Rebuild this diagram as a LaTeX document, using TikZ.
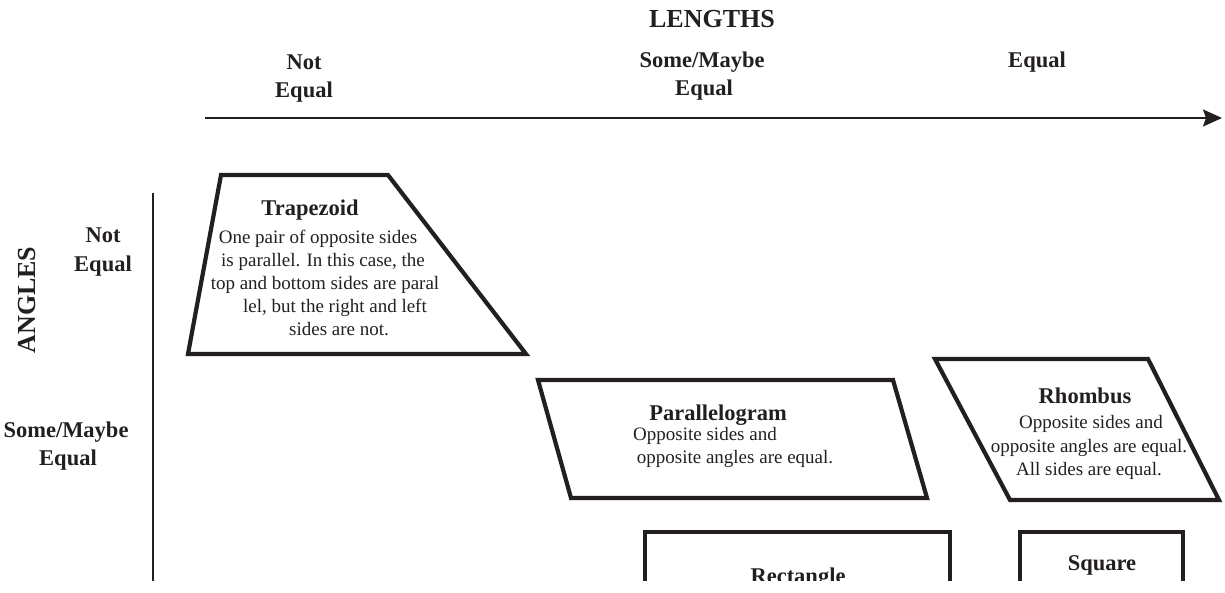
\documentclass[tikz,border=0pt]{standalone}
\usepackage{fontspec}
\setmainfont{Liberation Serif}
\usetikzlibrary{arrows.meta}
\definecolor{ink}{HTML}{231F20}
\begin{document}
\begin{tikzpicture}[x=1pt,y=-1pt,
  shapeline/.style={draw=ink,line width=4.2pt,line join=miter},
  title/.style={font=\fontsize{26}{30}\selectfont\bfseries,text=ink,inner sep=0pt,anchor=base},
  head/.style={font=\fontsize{22.5}{26}\selectfont\bfseries,text=ink,inner sep=0pt,anchor=base},
  body/.style={font=\fontsize{19}{23}\selectfont,text=ink,inner sep=0pt,anchor=base},
  axis/.style={draw=ink,line width=2pt}]
\useasboundingbox (0,0) rectangle (1225,592);
\clip (0,0) rectangle (1225,580);

% horizontal axis: lengths
\node[title] (lentitle) at (712,27) {LENGTHS};
\node[head] (lne1) at (304,69) {Not};
\node[head] (lne2) at (304,97) {Equal};
\node[head] (lsm1) at (702,67) {Some/Maybe};
\node[head] (lsm2) at (704,95) {Equal};
\node[head] (leq) at (1037,67) {Equal};
\coordinate (xa) at (205,118);
\coordinate (xb) at (1222,118);
\draw[axis,-{Stealth[length=19pt,width=17pt,inset=3pt]}] (xa) -- (xb);

% vertical axis: angles
\node[title,rotate=90,anchor=center] (angtitle) at (27,300) {ANGLES};
\node[head] (ane1) at (103,242) {Not};
\node[head] (ane2) at (103,271) {Equal};
\node[head] (asm1) at (66,437) {Some/Maybe};
\node[head] (asm2) at (68,465) {Equal};
\coordinate (ya) at (153,193);
\coordinate (yb) at (153,600);
\draw[axis] (ya) -- (yb);

% trapezoid
\draw[shapeline] (221,175) -- (388,175) -- (526,354) -- (188,354) -- cycle;
\node[head] (trap) at (310,215) {Trapezoid};
\node[body] (trap1) at (318,243) {One pair of opposite sides};
\node[body] (trap2) at (323,266) {is parallel. In this case, the};
\node[body] (trap3) at (325,289) {top and bottom sides are paral};
\node[body] (trap4) at (335,312) {lel, but the right and left};
\node[body] (trap5) at (339,335) {sides are not.};

% parallelogram
\draw[shapeline] (538,380) -- (893,380) -- (927,498) -- (571,498) -- cycle;
\node[head] (para) at (718,420) {Parallelogram};
\node[body] (para1) at (705,440) {Opposite sides and};
\node[body] (para2) at (735,463) {opposite angles are equal.};

% rhombus
\draw[shapeline] (935,359) -- (1148,359) -- (1219,500) -- (1010,500) -- cycle;
\node[head] (rho) at (1085,403) {Rhombus};
\node[body] (rho1) at (1091,428) {Opposite sides and};
\node[body] (rho2) at (1089,452) {opposite angles are equal.};
\node[body] (rho3) at (1089,475) {All sides are equal.};

% rectangle
\draw[shapeline] (645,600) -- (645,532) -- (950,532) -- (950,600);
\node[head] (rect) at (798,583) {Rectangle};

% square
\draw[shapeline] (1020,600) -- (1020,532) -- (1183,532) -- (1183,600);
\node[head] (sq) at (1102,570) {Square};
\end{tikzpicture}
\end{document}
